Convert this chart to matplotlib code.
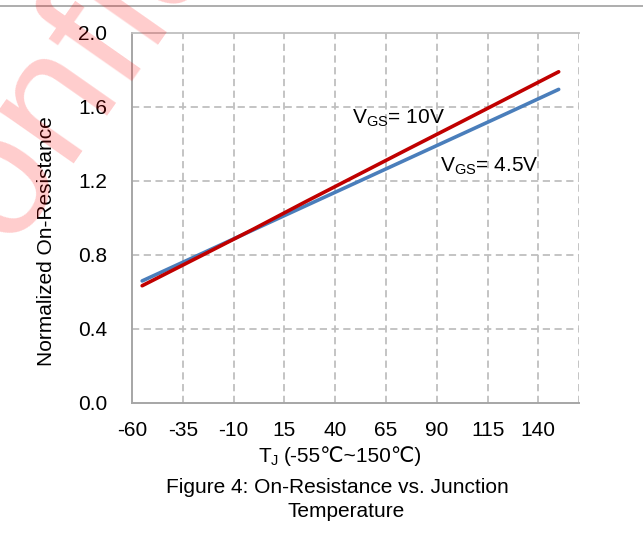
import numpy as np
import matplotlib
matplotlib.use("Agg")
import matplotlib.pyplot as plt
from matplotlib.lines import Line2D

plt.rcParams['font.family'] = ['Liberation Sans', 'DejaVu Sans']
plt.rcParams['mathtext.fontset'] = 'custom'
plt.rcParams['mathtext.rm'] = 'Liberation Sans'
plt.rcParams['axes.unicode_minus'] = False

# junction temperature (C) and normalized on-resistance
temps = [-55, -25, 0, 25, 50, 75, 100, 125, 150]
rds_10v = [0.633, 0.80, 0.94, 1.084, 1.225, 1.366, 1.506, 1.647, 1.788]
rds_4v5 = [0.659, 0.81, 0.936, 1.062, 1.188, 1.314, 1.44, 1.566, 1.693]

xticks = [-60, -35, -10, 15, 40, 65, 90, 115, 140]
yticks = [0.0, 0.4, 0.8, 1.2, 1.6, 2.0]

grid_col = '#BFBFBF'
spine_col = '#A6A6A6'

fig = plt.figure(figsize=(6.43, 5.51), dpi=100)
ax = fig.add_axes([132 / 643, 1 - 403 / 551, 447 / 643, 370.5 / 551])

# gridlines (dashed) - right edge of plot area is a gridline too
for x in xticks[1:] + [160]:
    ax.axvline(x, color=grid_col, lw=1.3, ls=(0, (4, 2.5)), zorder=1)
for y in yticks[1:-1]:
    ax.axhline(y, color=grid_col, lw=1.3, ls=(0, (4, 2.5)), zorder=1)

ax.plot(temps, rds_4v5, color='#4A7EBB', lw=2.6, solid_capstyle='round', zorder=3)
ax.plot(temps, rds_10v, color='#C00000', lw=2.6, solid_capstyle='round', zorder=4)

ax.set_xlim(-60, 160)
ax.set_ylim(0, 2.0)
ax.set_xticks(xticks)
ax.set_yticks(yticks)
ax.set_yticklabels(['%.1f' % v for v in yticks])
ax.tick_params(length=0, labelsize=15)
ax.tick_params(axis='y', pad=18)
ax.tick_params(axis='x', pad=13)

for side in ['left', 'bottom']:
    ax.spines[side].set_color(spine_col)
    ax.spines[side].set_linewidth(1.4)
ax.spines['top'].set_color(grid_col)
ax.spines['top'].set_linewidth(1.3)
ax.spines['right'].set_visible(False)

ax.text(48.5, 1.54, r'V$_{\mathrm{GS}}$= 10V', fontsize=15, va='center', ha='left', zorder=5)
ax.text(91.8, 1.28, r'V$_{\mathrm{GS}}$= 4.5V', fontsize=15, va='center', ha='left', zorder=5)

fig.text(47 / 643, 1 - 241 / 551, 'Normalized On-Resistance', rotation=90,
         fontsize=15, ha='center', va='center')

# x axis title, split so the degree sign comes from plain text
fig.text(258 / 643, 1 - 462 / 551, r'T$_{\mathrm{J}}$', fontsize=15,
         ha='left', va='baseline')
fig.text(284 / 643, 1 - 462 / 551, '(-55℃~150℃)', fontsize=15,
         ha='left', va='baseline')

fig.text(337.5 / 643, 1 - 493 / 551, 'Figure 4: On-Resistance vs. Junction',
         fontsize=15, ha='center', va='baseline')
fig.text(346 / 643, 1 - 517 / 551, 'Temperature',
         fontsize=15, ha='center', va='baseline')

# thin rule across the top of the page
fig.add_artist(Line2D([0, 1], [1 - 6 / 551, 1 - 6 / 551], color='#A0A0A0', lw=1.2,
                      transform=fig.transFigure))

# watermark
fig.text(-0.101, 0.366, 'Confidential', fontsize=126, color='red', alpha=0.2,
         rotation=55, rotation_mode='anchor', ha='left', va='baseline', zorder=10)

fig.savefig('out.png', dpi=100)
